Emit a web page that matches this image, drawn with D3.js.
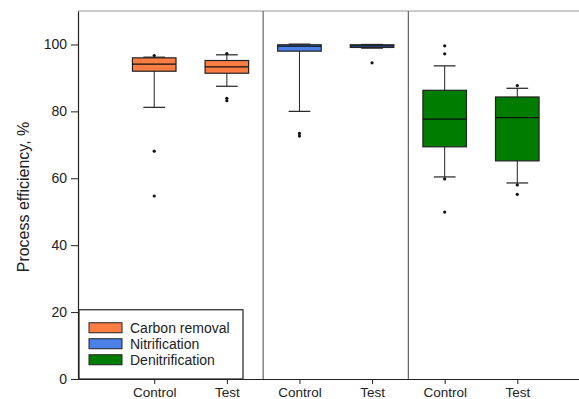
<!DOCTYPE html>
<html><head><meta charset="utf-8">
<script src="https://cdn.jsdelivr.net/npm/d3@7"></script>
<style>body{margin:0;background:#fff}svg{display:block;font-family:Arial,"Liberation Sans",sans-serif}</style>
</head><body><svg id="c" width="579" height="399"></svg>
<script>
const categories = ["Control","Test","Control","Test","Control","Test"];
const processes = ["Carbon removal","Nitrification","Denitrification"];
const processOf = [0,0,1,1,2,2];
const colors = ["#fa7d43","#4a80e8","#007c00"];
const lowWhisker = [81.2, 87.5, 80.0, 98.9, 60.4, 58.6];
const q1 =        [92.0, 91.4, 98.0, 99.1, 69.4, 65.2];
const median =    [94.1, 93.3, 99.5, 99.6, 77.7, 78.1];
const q3 =        [96.0, 95.2, 99.9, 99.9, 86.3, 84.3];
const highWhisker=[96.2, 96.9, 100.1, 100.0, 93.6, 86.9];
const outliers = [[96.7, 68.1, 54.7],[97.3, 83.9, 83.2],[73.4, 72.6],[94.5],[99.6, 97.2, 59.8, 49.9],[87.7, 58.0, 55.2]];
const yTicks = [0,20,40,60,80,100];
const separators = [2.5, 4.5];

const svg = d3.select("#c");
const W = 579, H = 399;
const m = {left:78, top:11, right:0, bottom:20};
const x = d3.scaleLinear().domain([-0.05, 6.85]).range([m.left, W - m.right]);
const y = d3.scaleLinear().domain([0, 110]).range([H - m.bottom, m.top]);
const pos = i => x(i + 1);
const bw = x(0.3) - x(0);
const cw = x(0.15) - x(0);

// top border
svg.append("line").attr("x1", m.left).attr("x2", W).attr("y1", y(110)).attr("y2", y(110))
  .attr("stroke", "#999").attr("stroke-width", 1.2);
// separators
separators.forEach(s => svg.append("line").attr("x1", x(s)).attr("x2", x(s))
  .attr("y1", y(110)).attr("y2", y(0)).attr("stroke", "#666").attr("stroke-width", 1.2));

const g = svg.selectAll("g.box").data(categories).join("g").attr("class","box");
g.append("line").attr("x1",(d,i)=>pos(i)).attr("x2",(d,i)=>pos(i))
  .attr("y1",(d,i)=>y(lowWhisker[i])).attr("y2",(d,i)=>y(highWhisker[i])).attr("stroke","#222");
[lowWhisker, highWhisker].forEach(arr => g.append("line")
  .attr("x1",(d,i)=>pos(i)-cw).attr("x2",(d,i)=>pos(i)+cw)
  .attr("y1",(d,i)=>y(arr[i])).attr("y2",(d,i)=>y(arr[i])).attr("stroke","#222").attr("stroke-width",1.2));
g.append("rect").attr("x",(d,i)=>pos(i)-bw).attr("width",2*bw)
  .attr("y",(d,i)=>y(q3[i])).attr("height",(d,i)=>y(q1[i])-y(q3[i]))
  .attr("fill",(d,i)=>colors[processOf[i]]).attr("stroke","#222").attr("stroke-width",1.2);
g.append("line").attr("x1",(d,i)=>pos(i)-bw).attr("x2",(d,i)=>pos(i)+bw)
  .attr("y1",(d,i)=>y(median[i])).attr("y2",(d,i)=>y(median[i])).attr("stroke","#111").attr("stroke-width",1.2);
g.each(function(d,i){
  d3.select(this).selectAll("circle").data(outliers[i]).join("circle")
    .attr("cx",pos(i)).attr("cy",v=>y(v)).attr("r",1.6).attr("fill","#111");
});

// axes
const yAxis = svg.append("g").attr("transform",`translate(${m.left},0)`)
  .call(d3.axisLeft(y).tickValues(yTicks).tickSize(7).tickPadding(4).tickSizeOuter(0));
yAxis.select(".domain").attr("stroke","#222").attr("stroke-width",1.2);
yAxis.selectAll(".tick line").attr("stroke","#222");
yAxis.selectAll("text").attr("font-size",14).attr("fill","#222").attr("font-family","Arial, Liberation Sans, sans-serif");

const xAxis = svg.append("g").attr("transform",`translate(0,${y(0)})`)
  .call(d3.axisBottom(x).tickValues(d3.range(1,7)).tickFormat(d=>categories[d-1]).tickSize(5).tickPadding(3).tickSizeOuter(0));
xAxis.select(".domain").attr("stroke","#222").attr("stroke-width",1.2);
xAxis.selectAll(".tick line").attr("stroke","#222");
xAxis.selectAll("text").attr("font-size",13.5).attr("fill","#222").attr("font-family","Arial, Liberation Sans, sans-serif");

svg.append("text").attr("transform",`translate(29,${(y(0)+y(110))/2 + 2}) rotate(-90)`)
  .attr("text-anchor","middle").attr("font-size",16).attr("fill","#222").text("Process efficiency, %");

// legend
const lg = svg.append("g");
lg.append("rect").attr("x", m.left+1).attr("y", y(20.7)).attr("width", 164).attr("height", y(0)-y(20.7))
  .attr("fill","#fff").attr("stroke","#222").attr("stroke-width",1.2);
processes.forEach((p,k)=>{
  const yy = y(20.7) + 13 + k*16;
  lg.append("rect").attr("x", m.left+11).attr("y", yy).attr("width",33).attr("height",10)
    .attr("fill",colors[k]).attr("stroke","#222").attr("stroke-width",1);
  lg.append("text").attr("x", m.left+52).attr("y", yy+10).attr("font-size",14).attr("fill","#222").text(p);
});
</script></body></html>
